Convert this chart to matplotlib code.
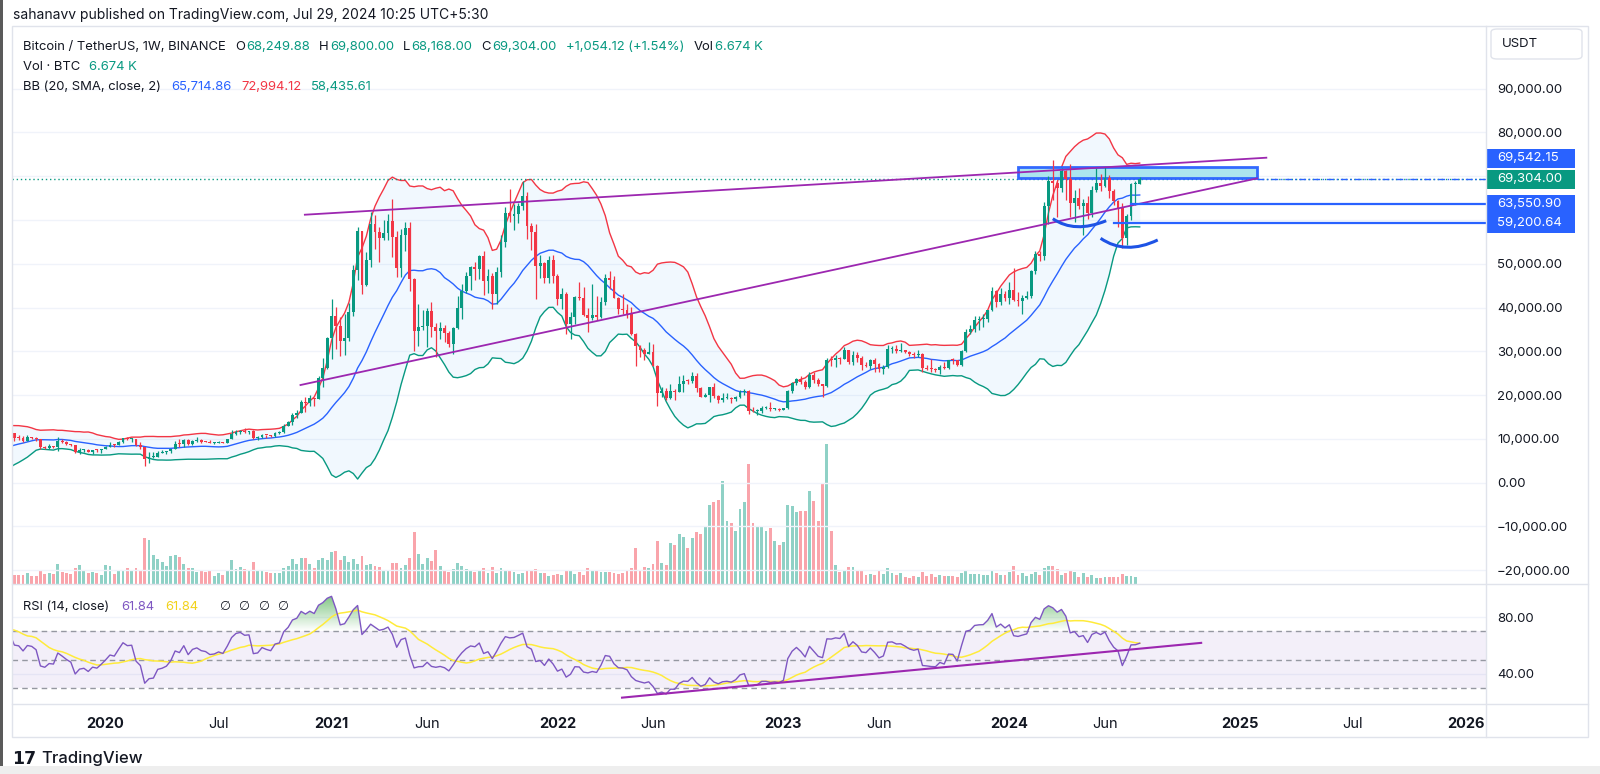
import numpy as np
import pandas as pd
import matplotlib
matplotlib.use("Agg")
import matplotlib.pyplot as plt
import matplotlib.dates as mdates
from matplotlib.patches import Rectangle, FancyBboxPatch, PathPatch
from matplotlib.path import Path
from matplotlib.transforms import blended_transform_factory

plt.rcParams['font.family'] = ['Inter', 'DejaVu Sans']

# ---------------- data (BTC/USDT weekly, Binance) ----------------
first_week = '2018-10-01'
# closes before the visible range (warm-up for BB and RSI)
close_pre = [6580, 6290, 6400, 6410, 6450, 6350, 5600, 3800, 4020, 3600,
             3250, 3980, 3700, 4060, 3550, 3540, 3530, 3410, 3660, 3620,
             3750, 3830, 3950, 4020, 3990, 4100, 5060, 5070, 5310, 5200,
             5760, 6960, 8200, 8760, 8730, 7630, 8990, 10850, 10820, 11470,
             10200, 10530, 9480, 10800]

# visible weeks, 2019-08-05 .. 2024-07-29
close = [11270, 10220, 10140, 9600, 10400, 10310, 9980, 8050, 7860, 8280,
         8220, 9550, 9200, 8810, 8500, 6900, 7420, 7510, 7080, 7510,
         7390, 7760, 8190, 8700, 8600, 9340, 10150, 9910, 9960, 8520,
         8030, 5360, 5820, 5880, 6780, 6900, 7120, 7700, 8900, 8730,
         9680, 8720, 9450, 9670, 9390, 9300, 9010, 9070, 9290, 9160,
         9930, 11050, 11680, 11850, 11650, 11710, 10250, 10330, 10920, 10770,
         10670, 11380, 11510, 13030, 13800, 15480, 15960, 18400, 18180, 19360,
         19170, 23850, 26280, 33000, 38150, 35800, 32260, 33100, 38880, 48580,
         57490, 45240, 50970, 59000, 57350, 55790, 57060, 59770, 56200, 49000,
         56580, 58230, 46430, 34650, 35650, 35800, 39100, 35500, 34700, 35290,
         34260, 31780, 35400, 39850, 43800, 47100, 49250, 48800, 51750, 46000,
         47250, 43200, 48200, 54950, 61530, 60850, 61300, 63270, 65470, 58600,
         57270, 49400, 50100, 46680, 50800, 47300, 41860, 43080, 36280, 37900,
         42400, 42200, 38360, 37700, 38400, 37780, 41260, 46820, 46400, 42150,
         39700, 39450, 38470, 34060, 31300, 30300, 29450, 29860, 26570, 20550,
         21030, 19300, 20850, 20790, 22580, 23300, 23170, 24300, 21530, 19550,
         19990, 21830, 19700, 18800, 19310, 19420, 19070, 19570, 20630, 20900,
         16330, 16280, 16460, 17100, 17100, 16740, 16840, 16620, 16950, 20880,
         22710, 23740, 22930, 21780, 24630, 23550, 22430, 22130, 28040, 27990,
         28450, 28330, 30300, 27590, 29230, 28430, 26920, 26750, 28080, 27100,
         25850, 26340, 30460, 30590, 30170, 30230, 29790, 29280, 29050, 29300,
         26100, 26000, 25870, 25830, 26530, 26250, 27970, 27920, 26850, 29990,
         34520, 35010, 37060, 37360, 37450, 39460, 43780, 41370, 43010, 42280,
         43930, 41730, 41580, 42120, 42580, 48300, 52140, 51730, 63110, 68960,
         68390, 67210, 71280, 69360, 63900, 64940, 63120, 63890, 61480, 66940,
         68510, 67760, 69650, 66670, 64250, 62770, 55860, 60800, 68160, 68249.88,
         69304]

high = [12300, 11450, 10950, 10620, 10920, 10480, 10350, 10050, 8480, 8800,
        8400, 10370, 9950, 9480, 8900, 8500, 7850, 7750, 7580, 7520,
        7700, 7800, 8470, 9190, 8750, 9600, 10160, 10500, 10250, 9980,
        9190, 8180, 6900, 6950, 7200, 7460, 7300, 7750, 9480, 10070,
        9950, 9900, 9700, 10430, 10000, 9590, 9780, 9310, 9480, 9340,
        9990, 12120, 12080, 12100, 12480, 11800, 12050, 10580, 11180, 10990,
        10950, 11490, 11740, 13350, 14090, 15960, 16480, 18800, 19480, 19920,
        19420, 24300, 28420, 33300, 41950, 40100, 37860, 38530, 40950, 49700,
        58350, 57530, 52640, 61840, 61180, 58420, 60000, 61300, 64850, 57530,
        57960, 59590, 59500, 46640, 40900, 39480, 39980, 41330, 36500, 36600,
        35950, 34700, 35500, 42600, 45300, 48140, 49380, 50500, 51900, 52920,
        48850, 48000, 49230, 56560, 62930, 67000, 63710, 63990, 69000, 66340,
        59270, 59180, 51940, 50500, 51870, 52090, 47570, 44460, 43500, 38950,
        42650, 45850, 44750, 39850, 45400, 42600, 42330, 47570, 48240, 47200,
        42400, 42980, 40800, 40020, 34250, 31400, 30650, 32220, 31700, 26900,
        21870, 21540, 22530, 21300, 24280, 24670, 23650, 25210, 25000, 21910,
        20580, 21860, 22800, 19960, 20390, 20480, 19520, 19700, 21080, 21480,
        21050, 17190, 16810, 17400, 17430, 18390, 16950, 16970, 17050, 21260,
        23080, 23960, 24260, 23420, 25250, 25240, 23880, 22600, 28390, 28870,
        29200, 28800, 31000, 30400, 30040, 29820, 28850, 27660, 28260, 28450,
        27400, 26770, 31430, 31280, 31380, 31800, 30350, 29990, 29730, 30240,
        29680, 26800, 28140, 26130, 26900, 27480, 27990, 28580, 28000, 30380,
        35200, 35980, 38000, 37960, 38420, 39470, 44700, 44000, 44400, 43800,
        45900, 48970, 43580, 42840, 43880, 48600, 52820, 52980, 64000, 70000,
        73780, 68920, 71770, 71370, 72800, 66870, 67230, 64730, 65500, 67700,
        71980, 70600, 71990, 70200, 67000, 64500, 63860, 61470, 68370, 68900,
        69800]

low = [10780, 9470, 9800, 9320, 9580, 9950, 9600, 7750, 7750, 7770,
       7900, 7300, 8970, 8700, 8300, 6790, 6520, 7080, 7020, 6430,
       7100, 6870, 7680, 8080, 8240, 8560, 9140, 9720, 9300, 8420,
       7630, 3780, 4440, 5700, 5860, 6740, 6470, 6800, 7630, 8120,
       8200, 8700, 8630, 9270, 9080, 9200, 8950, 8940, 9030, 9010,
       9040, 9900, 10950, 11120, 11370, 11150, 9880, 9850, 10200, 10140,
       10370, 10540, 11200, 11450, 12880, 13200, 14850, 15800, 16200, 17580,
       17600, 19000, 21800, 25900, 28130, 30420, 28850, 29240, 32300, 37980,
       46300, 43000, 45000, 49270, 53270, 50310, 55440, 55470, 51540, 47000,
       47040, 53000, 43820, 30000, 31200, 34800, 31000, 33340, 28800, 32700,
       32070, 31020, 29300, 35200, 37400, 43300, 43960, 46370, 46500, 42840,
       43370, 39600, 40750, 46900, 53880, 59500, 57820, 59400, 62330, 55600,
       53250, 42000, 46750, 45500, 45580, 45700, 40500, 39650, 34000, 32920,
       36250, 41700, 38000, 34320, 37100, 37140, 37560, 40470, 44200, 42100,
       38530, 38540, 37580, 33710, 26700, 28650, 28020, 29300, 26560, 17620,
       19640, 18780, 19040, 18910, 20770, 20710, 22430, 22680, 20800, 19520,
       19520, 18510, 19320, 18130, 18470, 19170, 18190, 18650, 19240, 20050,
       15590, 16250, 15480, 16000, 16740, 16400, 16500, 16350, 16500, 16900,
       20400, 22290, 22540, 21350, 21530, 22720, 21970, 19550, 21900, 26600,
       26500, 27200, 28170, 27130, 26940, 27650, 25810, 26350, 25880, 25350,
       25350, 24800, 26240, 29500, 29700, 29950, 29500, 28860, 28580, 28700,
       25170, 25800, 25330, 25370, 24900, 26010, 25990, 27160, 26540, 26540,
       29780, 33940, 34520, 34790, 35630, 36710, 39300, 40200, 40520, 41430,
       40750, 41500, 40280, 38560, 41880, 42260, 47700, 50520, 50900, 59000,
       64550, 60780, 66380, 64500, 60660, 59600, 62400, 56550, 60190, 60750,
       66300, 66630, 67600, 65080, 63380, 58400, 53500, 54260, 59920, 63460,
       68168]

# weekly volume, thousand BTC
volume = [250, 233, 233, 218, 268, 208, 200, 350, 243, 268, 250,
          493, 308, 268, 250, 408, 475, 318, 268, 308, 268,
          225, 468, 458, 250, 350, 350, 393, 333, 408, 350,
          1150, 1100, 725, 618, 543, 458, 700, 725, 683, 493,
          408, 408, 308, 325, 308, 333, 208, 268, 225, 333,
          600, 375, 433, 383, 325, 543, 343, 343, 308, 283,
          275, 283, 393, 450, 618, 500,
          643, 643, 500, 408, 600, 650, 600, 800, 833, 600,
          700, 558, 625, 500, 700, 468, 493, 450, 433, 350,
          350, 518, 533, 393, 475, 643, 1293, 743, 500, 658,
          575, 850, 458, 350, 300, 368, 533, 450, 368, 343,
          308, 318, 393, 283, 425, 283, 408, 343, 333, 300,
          258, 283, 325, 318, 375, 268, 268, 208, 218, 250,
          225, 343, 343, 258, 300, 233, 408,
          350, 350, 308, 308, 293, 268, 250, 283, 350, 393,
          908, 350, 418, 400, 500, 1068, 533, 475, 1033, 983,
          1243, 1183, 900, 1158, 1293, 1250, 1418, 1983, 2050, 2100,
          2568, 1583, 1533, 1333, 1868, 2050, 2993, 1518, 1450, 1450,
          1333, 1408, 1068, 975, 1043, 1983, 1950, 1808, 1825, 1825,
          2325, 2083, 1583, 2508, 3493, 1333, 468, 300, 350, 418,
          433, 333, 318, 225, 250, 218, 333,
          250, 393, 275, 233, 268, 175, 158, 200, 183, 293,
          193, 250, 168, 218, 200, 200, 208, 168, 283, 350,
          243, 250, 250, 225, 225, 325, 283, 233, 225, 300,
          450, 233, 268, 208, 250, 300, 225, 400, 458, 458,
          383, 233, 283, 343, 293, 183, 283, 183, 218, 158,
          158, 168, 168, 168, 183, 250, 193, 208, 175, 6.674]

last_price = 69304.00
level_prices = [63550.90, 59200.64]
level_starts = ['2024-07-15', '2024-06-17']
zone = {'start': '2024-01-15', 'end': '2025-02-03', 'low': 69542.15, 'high': 72000}
trend_upper = (['2020-11-22', '2025-02-18'], [61200, 74220])
trend_lower = (['2020-11-15', '2025-02-03'], [22300, 69500])
arcs = [(['2024-03-11', '2024-04-19', '2024-06-05'], [60290, 58460, 59830]),
        (['2024-05-27', '2024-07-09', '2024-08-27'], [55810, 53760, 55430])]
rsi_trend = (['2022-04-17', '2024-11-05'], [23.1, 61.9])

price_ticks = list(range(-20000, 100000, 10000))
rsi_ticks = [40, 80]
time_ticks = ['2020-01-06', '2020-07-06', '2021-01-04', '2021-06-07', '2022-01-03',
              '2022-06-06', '2023-01-02', '2023-06-05', '2024-01-01', '2024-06-03',
              '2025-01-06', '2025-07-07', '2026-01-05']
time_labels = ['2020', 'Jul', '2021', 'Jun', '2022', 'Jun', '2023', 'Jun', '2024',
               'Jun', '2025', 'Jul', '2026']

# ---------------- indicators ----------------
all_close = np.array(close_pre + close, dtype=float)
weeks = pd.date_range(first_week, periods=len(all_close), freq='7D')
n_pre = len(close_pre)
xd = mdates.date2num(weeks)
xv = xd[n_pre:]

s = pd.Series(all_close)
basis = s.rolling(20).mean()
dev = s.rolling(20).std(ddof=0)
upper = basis + 2 * dev
lower = basis - 2 * dev
chg = s.diff()
gain = chg.clip(lower=0).ewm(alpha=1 / 14, adjust=False).mean()
loss = (-chg.clip(upper=0)).ewm(alpha=1 / 14, adjust=False).mean()
rsi = (100 - 100 / (1 + gain / loss)).to_numpy()
rsi_ma = pd.Series(rsi).rolling(14).mean().to_numpy()

# ---------------- layout ----------------
W, H = 1600, 774
GREEN, RED, BLUE = '#089981', '#F23645', '#2962FF'
TXT, LINE = '#131722', '#E0E3EB'
fig = plt.figure(figsize=(W / 100, H / 100), dpi=100)
fig.patch.set_facecolor('white')


def rect(l, t, r, b):
    return [l / W, 1 - b / H, (r - l) / W, (b - t) / H]


L, R = 12, 1486
ax_vol = fig.add_axes(rect(L, 27, R, 584))
ax = fig.add_axes(rect(L, 27, R, 584), sharex=ax_vol)
ax_rsi = fig.add_axes(rect(L, 584, R, 704), sharex=ax_vol)
ax.set_facecolor('none')

x_ref = mdates.date2num(pd.Timestamp('2020-01-06'))
days_per_px = 7 / 4.345
xlim = (x_ref + (L - 105.6) * days_per_px, x_ref + (R - 105.6) * days_per_px)
ax.set_ylim(-23150, 104077)
ax_vol.set_ylim(0, 13930)

for a in (ax, ax_vol, ax_rsi):
    for sp in a.spines.values():
        sp.set_visible(False)
ax_vol.tick_params(which='both', length=0, labelbottom=False, labelleft=False)

# volume
o = all_close[n_pre - 1:-1]
c = all_close[n_pre:]
col = np.where(c >= o, GREEN, RED)
ax_vol.bar(xv, volume, width=4.6, color=col, alpha=0.45, linewidth=0)

# grid + price axis
ax.set_yticks(price_ticks)
ax.set_yticklabels([f"{v:,.2f}".replace('-', '\u2212') for v in price_ticks])
ax.yaxis.tick_right()
ax.tick_params(axis='y', length=0, pad=8, labelsize=9.5, labelcolor=TXT)
ax.tick_params(axis='x', length=0, labelbottom=False)
ax.grid(axis='y', color='#F0F3FA', lw=1)
ax.set_axisbelow(True)

# Bollinger bands
ax.fill_between(xd, upper, lower, color='#2196F3', alpha=0.06, lw=0, zorder=1)
ax.plot(xd, upper, color=RED, lw=1.0, zorder=2)
ax.plot(xd, lower, color=GREEN, lw=1.0, zorder=2)
ax.plot(xd, basis, color=BLUE, lw=1.0, zorder=2)

# candles
ax.vlines(xv, low, high, colors=col, lw=0.9, zorder=4)
body = np.maximum(np.abs(c - o), 230)
ax.bar(xv, body, bottom=np.minimum(o, c), width=4.6, color=col, lw=0, zorder=5)

# drawings
d = lambda v: mdates.date2num(pd.to_datetime(v))
ax.axhline(last_price, color=GREEN, lw=1, ls=(0, (1, 2)), zorder=3)
ax.plot(d(trend_upper[0]), trend_upper[1], color='#9C27B0', lw=1.3, zorder=6)
ax.plot(d(trend_lower[0]), trend_lower[1], color='#9C27B0', lw=1.3, zorder=6)
z0, z1 = d(zone['start']), d(zone['end'])
ax.add_patch(Rectangle((z0, zone['low']), z1 - z0, zone['high'] - zone['low'],
                       facecolor='#A8E4EE', edgecolor=BLUE, lw=2, alpha=0.95, zorder=3))
ax.plot([z1, xlim[1]], [last_price, last_price], color=BLUE, lw=1,
        ls=(0, (5, 2, 1, 2)), zorder=3)
for start, p in zip(level_starts, level_prices):
    ax.plot([d(start), xlim[1]], [p, p], color=BLUE, lw=1.6, zorder=6)
for dates, prices in arcs:
    xs = d(dates)
    cx = 2 * xs[1] - (xs[0] + xs[2]) / 2
    cy = 2 * prices[1] - (prices[0] + prices[2]) / 2
    path = Path([(xs[0], prices[0]), (cx, cy), (xs[2], prices[2])],
                [Path.MOVETO, Path.CURVE3, Path.CURVE3])
    ax.add_patch(PathPatch(path, facecolor='none', edgecolor='#1E53E5', lw=2.2, zorder=7))

# ---------------- RSI pane ----------------
ax_rsi.axhspan(30, 70, color='#7E57C2', alpha=0.09, lw=0)
for lv in (70, 50, 30):
    ax_rsi.axhline(lv, color='#9598A1', lw=1, ls=(0, (4, 3)))
ax_rsi.set_yticks(rsi_ticks)
ax_rsi.set_yticklabels([f"{v:.2f}" for v in rsi_ticks])
ax_rsi.yaxis.tick_right()
ax_rsi.tick_params(axis='y', length=0, pad=8, labelsize=9.5, labelcolor=TXT)
ax_rsi.grid(axis='y', color='#F0F3FA', lw=1)
ax_rsi.set_axisbelow(True)


def gradient(base, top, color, where):
    poly = ax_rsi.fill_between(xd, base, rsi, where=where, interpolate=True,
                               facecolor='none', edgecolor='none')
    paths = poly.get_paths()
    if not paths:
        return
    clip = Path.make_compound_path(*paths)
    rgb = matplotlib.colors.to_rgb(color)
    n = 100
    img = np.zeros((n, 2, 4))
    img[..., :3] = rgb
    img[..., 3] = np.linspace(0, 0.85, n)[:, None]
    lo, hi = (base, top) if top > base else (top, base)
    if top < base:
        img = img[::-1]
    im = ax_rsi.imshow(img, extent=(xd[0], xd[-1], lo, hi), origin='lower',
                       aspect='auto', zorder=1)
    im.set_clip_path(clip, transform=ax_rsi.transData)


gradient(70, 100, '#4CAF50', rsi > 70)
gradient(30, 0, '#F23645', rsi < 30)
ax_rsi.set_ylim(18.6, 103.6)
ax_rsi.plot(xd, rsi_ma, color='#FFEB3B', lw=1.1, zorder=3)
ax_rsi.plot(xd, rsi, color='#7E57C2', lw=1.0, zorder=4)
ax_rsi.plot(d(rsi_trend[0]), rsi_trend[1], color='#9C27B0', lw=1.5, zorder=5)

ax_rsi.set_xticks(d(time_ticks))
ax_rsi.set_xticklabels(time_labels)
ax_rsi.tick_params(axis='x', length=0, pad=9, labelsize=10.5, labelcolor=TXT)
for t in ax_rsi.get_xticklabels():
    if t.get_text().isdigit():
        t.set_fontweight('bold')
ax.set_xlim(*xlim)

# ---------------- frame ----------------
ff = fig.transFigure


def fline(x0, y0, x1, y1, color=LINE, lw=1):
    fig.add_artist(plt.Line2D([x0 / W, x1 / W], [1 - y0 / H, 1 - y1 / H],
                              color=color, lw=lw, transform=ff))


fig.add_artist(Rectangle((L / W, 1 - 737 / H), (1588 - L) / W, (737 - 26) / H,
                         transform=ff, fill=False, edgecolor=LINE, lw=1))
fline(R, 26, R, 737)
fline(L, 584, 1588, 584)
fline(L, 704, 1588, 704)
fig.add_artist(Rectangle((0, 0), 2.5 / W, 1, transform=ff, color='#5A5A5A', lw=0))
fig.add_artist(Rectangle((0, 0), 1, 8 / H, transform=ff, color='#EEEEEE', lw=0))

# USDT box
fig.add_artist(FancyBboxPatch((1491 / W, 1 - 59 / H), 91 / W, 30 / H, transform=ff,
                              boxstyle='round,pad=0,rounding_size=0.004',
                              facecolor='white', edgecolor=LINE, lw=1))
fig.text(1502 / W, 1 - 44 / H, 'USDT', fontsize=9.5, color=TXT, va='center')

# price labels on the axis
bt = blended_transform_factory(ff, ax.transData)
box_h = 19 * 1000 / 4.378
axis_labels = [(f"{zone['low']:,.2f}", last_price + box_h * 1.1, BLUE),
               (f"{last_price:,.2f}", last_price, GREEN),
               (f"{level_prices[0]:,.2f}", level_prices[0], BLUE),
               (f"{level_prices[1]:,.2f}", level_prices[1], BLUE)]
for txt, yc, colr in axis_labels:
    fig.add_artist(Rectangle((1487 / W, yc - box_h / 2), 88 / W, box_h,
                             transform=bt, facecolor=colr, edgecolor='none'))
    fig.add_artist(plt.Text(1497 / W, yc, txt, transform=bt, color='white',
                            fontsize=9.5, va='center'))

# ---------------- header texts ----------------
rend = fig.canvas.get_renderer()


def runs(x, y, parts, size=9.4):
    for text, colr, gap in parts:
        t = fig.text(x / W, 1 - y / H, text, color=colr, fontsize=size, va='center')
        x += t.get_window_extent(renderer=rend).width + gap


fig.text(13 / W, 1 - 15 / H, 'sahanavv published on TradingView.com, Jul 29, 2024 10:25 UTC+5:30',
         fontsize=10, color=TXT, va='center')
runs(23, 47.5, [('Bitcoin / TetherUS, 1W, BINANCE', TXT, 9), ('O', TXT, 1.5),
                ('68,249.88', GREEN, 9), ('H', TXT, 1.5), ('69,800.00', GREEN, 9),
                ('L', TXT, 1.5), ('68,168.00', GREEN, 9), ('C', TXT, 1.5),
                ('69,304.00', GREEN, 9), ('+1,054.12 (+1.54%)', GREEN, 9),
                ('Vol', TXT, 1.5), ('6.674 K', GREEN, 0)])
runs(23, 66.5, [('Vol \u00b7 BTC', TXT, 9), ('6.674 K', GREEN, 0)])
runs(23, 86.5, [('BB (20, SMA, close, 2)', TXT, 10), ('65,714.86', BLUE, 10),
                ('72,994.12', RED, 10), ('58,435.61', GREEN, 0)])
runs(23, 606.5, [('RSI (14, close)', TXT, 12), ('61.84', '#7E57C2', 11),
                 ('61.84', '#F2D21B', 12)], size=9.3)
for i in range(4):
    fig.text((219 + 19.5 * i) / W, 1 - 606.5 / H, '\u2205', fontsize=9, color=TXT,
             va='center', ha='left', family=['DejaVu Sans'])

fig.text(12 / W, 1 - 759 / H, '17', fontsize=12.5, fontweight='heavy', color=TXT,
         va='center', family=['DejaVu Sans'])
fig.text(41 / W, 1 - 759 / H, 'TradingView', fontsize=12, fontweight='medium',
         color=TXT, va='center')

fig.savefig('out.png', dpi=100, facecolor='white')
